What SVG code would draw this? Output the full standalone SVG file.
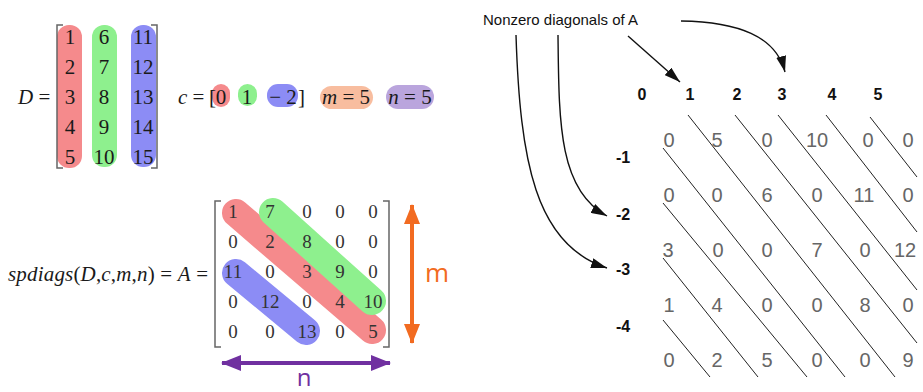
<svg xmlns="http://www.w3.org/2000/svg" width="923" height="392" viewBox="0 0 923 392">
<defs>
<style>
.serif{font-family:"Liberation Serif","Times New Roman",serif;fill:#1a1a1a}
.num{font-family:"Liberation Serif","Times New Roman",serif;font-size:21px;fill:#1a1a1a;text-anchor:middle}
.anum{font-family:"Liberation Serif","Times New Roman",serif;font-size:19px;fill:#333;text-anchor:middle}
.brk{fill:none;stroke:#666;stroke-width:1.5}
.gnum{font-family:"Liberation Sans",Arial,sans-serif;font-size:20px;fill:#666;text-anchor:middle}
.hdr{font-family:"Liberation Sans",Arial,sans-serif;font-size:16px;font-weight:bold;fill:#111;text-anchor:middle}
.diag{stroke:#222;stroke-width:1;fill:none}
.conn{stroke:#111;stroke-width:1.4;fill:none;marker-end:url(#ah)}
.it{font-style:italic}
</style>
<marker id="ah" viewBox="0 0 16 10" refX="16" refY="5" markerWidth="16" markerHeight="10" markerUnits="userSpaceOnUse" orient="auto">
<path d="M0,0 L16,5 L0,10 Z" fill="#111"/>
</marker>
<marker id="oa" viewBox="0 0 20 16" refX="19" refY="8" markerWidth="20" markerHeight="16" markerUnits="userSpaceOnUse" orient="auto-start-reverse">
<path d="M0,0 L20,8 L0,16 Z" fill="#f26b21"/>
</marker>
<marker id="pa" viewBox="0 0 20 16" refX="19" refY="8" markerWidth="20" markerHeight="16" markerUnits="userSpaceOnUse" orient="auto-start-reverse">
<path d="M0,0 L20,8 L0,16 Z" fill="#7030a0"/>
</marker>
</defs>
<rect width="923" height="392" fill="#fff"/>

<g id="D-matrix">
<text class="serif" x="18" y="104" font-size="21"><tspan class="it">D</tspan> =</text>
<rect x="57" y="25" width="25" height="143" rx="12" fill="#f58a8c"/>
<rect x="92" y="25" width="25" height="142" rx="12" fill="#8ef08e"/>
<rect x="131" y="25" width="25" height="142" rx="12" fill="#8c8cf5"/>
<path class="brk" d="M63,25 H57 V168 H63"/>
<path class="brk" d="M151,25 H157 V168 H151"/>
<text class="num" x="70" y="44">1</text><text class="num" x="70" y="74">2</text><text class="num" x="70" y="104">3</text><text class="num" x="70" y="134">4</text><text class="num" x="70" y="164">5</text>
<text class="num" x="104" y="44">6</text><text class="num" x="104" y="74">7</text><text class="num" x="104" y="104">8</text><text class="num" x="104" y="134">9</text><text class="num" x="104" y="164">10</text>
<text class="num" x="143" y="44">11</text><text class="num" x="143" y="74">12</text><text class="num" x="143" y="104">13</text><text class="num" x="143" y="134">14</text><text class="num" x="143" y="164">15</text>
</g>

<g id="c-vector">
<rect x="212" y="84" width="18" height="23" rx="9" fill="#f58a8c"/>
<rect x="238" y="84" width="19" height="22" rx="9.5" fill="#8ef08e"/>
<rect x="267" y="84" width="31" height="23" rx="11" fill="#8c8cf5"/>
<text class="serif" x="178" y="104" font-size="21"><tspan class="it">c</tspan> =</text>
<text class="serif" x="209" y="104" font-size="21">[</text>
<text class="num" x="221" y="104">0</text>
<text class="num" x="247" y="104">1</text>
<text class="num" x="283" y="104">− 2</text>
<text class="serif" x="298" y="104" font-size="21">]</text>
</g>

<g id="m-pill">
<rect x="320" y="86" width="53" height="23" rx="11.5" fill="#f8bd9f"/>
<text class="num" x="346" y="104"><tspan class="it">m</tspan> = 5</text>
</g>
<g id="n-pill">
<rect x="386" y="85" width="48" height="24" rx="12" fill="#baa5dd"/>
<text class="num" x="410" y="104"><tspan class="it">n</tspan> = 5</text>
</g>

<g id="A-equation">
<text class="serif" x="8" y="281" font-size="21" textLength="200" lengthAdjust="spacing"><tspan class="it">spdiags</tspan>(<tspan class="it">D</tspan>,<tspan class="it">c</tspan>,<tspan class="it">m</tspan>,<tspan class="it">n</tspan>) = <tspan class="it">A</tspan> =</text>
</g>

<g id="A-matrix">
<line x1="236" y1="213" x2="372" y2="330" stroke="#f58a8c" stroke-width="28" stroke-linecap="round"/>
<line x1="273" y1="212" x2="372" y2="301" stroke="#8ef08e" stroke-width="28" stroke-linecap="round"/>
<line x1="236" y1="273" x2="306" y2="331" stroke="#8c8cf5" stroke-width="28" stroke-linecap="round"/>
<path class="brk" d="M221,201 H215 V347 H221"/>
<path class="brk" d="M383,201 H389 V347 H383"/>
<text class="anum" x="233" y="218">1</text><text class="anum" x="270" y="218">7</text><text class="anum" x="307" y="218">0</text><text class="anum" x="340" y="218">0</text><text class="anum" x="373" y="218">0</text>
<text class="anum" x="233" y="248">0</text><text class="anum" x="270" y="248">2</text><text class="anum" x="307" y="248">8</text><text class="anum" x="340" y="248">0</text><text class="anum" x="373" y="248">0</text>
<text class="anum" x="233" y="278">11</text><text class="anum" x="270" y="278">0</text><text class="anum" x="307" y="278">3</text><text class="anum" x="340" y="278">9</text><text class="anum" x="373" y="278">0</text>
<text class="anum" x="233" y="308">0</text><text class="anum" x="270" y="308">12</text><text class="anum" x="307" y="308">0</text><text class="anum" x="340" y="308">4</text><text class="anum" x="373" y="308">10</text>
<text class="anum" x="233" y="338">0</text><text class="anum" x="270" y="338">0</text><text class="anum" x="307" y="338">13</text><text class="anum" x="340" y="338">0</text><text class="anum" x="373" y="338">5</text>
</g>

<g id="m-arrow">
<line x1="412" y1="205" x2="412" y2="343" stroke="#f26b21" stroke-width="4" marker-start="url(#oa)" marker-end="url(#oa)"/>
<text x="437" y="282" font-family="'Open Sans','Liberation Sans',sans-serif" font-size="26" fill="#f26b21" text-anchor="middle">m</text>
</g>
<g id="n-arrow">
<line x1="222" y1="363" x2="390" y2="363" stroke="#7030a0" stroke-width="4" marker-start="url(#pa)" marker-end="url(#pa)"/>
<text x="304" y="386" font-family="'Open Sans','Liberation Sans',sans-serif" font-size="24" fill="#7030a0" text-anchor="middle">n</text>
</g>

<g id="title">
<text x="483" y="25" font-family="'Liberation Sans',Arial,sans-serif" font-size="15" fill="#111" textLength="155" lengthAdjust="spacingAndGlyphs">Nonzero diagonals of A</text>
</g>

<g id="headers">
<text class="hdr" x="642" y="100">0</text><text class="hdr" x="690" y="100">1</text><text class="hdr" x="737" y="100">2</text><text class="hdr" x="782" y="100">3</text><text class="hdr" x="832" y="100">4</text><text class="hdr" x="878" y="100">5</text>
</g>
<g id="row-labels">
<text class="hdr" x="623" y="163">-1</text><text class="hdr" x="623" y="220">-2</text><text class="hdr" x="623" y="275">-3</text><text class="hdr" x="623" y="332">-4</text>
</g>

<g id="grid">
<text class="gnum" x="669" y="147">0</text><text class="gnum" x="717" y="147">5</text><text class="gnum" x="767" y="147">0</text><text class="gnum" x="817" y="147">10</text><text class="gnum" x="868" y="147">0</text><text class="gnum" x="908" y="147">0</text>
<text class="gnum" x="669" y="202">0</text><text class="gnum" x="717" y="202">0</text><text class="gnum" x="767" y="202">6</text><text class="gnum" x="817" y="202">0</text><text class="gnum" x="864" y="202">11</text><text class="gnum" x="908" y="202">0</text>
<text class="gnum" x="668" y="257">3</text><text class="gnum" x="718" y="257">0</text><text class="gnum" x="767" y="257">0</text><text class="gnum" x="817" y="257">7</text><text class="gnum" x="865" y="257">0</text><text class="gnum" x="905" y="257">12</text>
<text class="gnum" x="669" y="312">1</text><text class="gnum" x="717" y="312">4</text><text class="gnum" x="767" y="312">0</text><text class="gnum" x="817" y="312">0</text><text class="gnum" x="865" y="312">8</text><text class="gnum" x="908" y="312">0</text>
<text class="gnum" x="669" y="367">0</text><text class="gnum" x="717" y="367">2</text><text class="gnum" x="767" y="367">5</text><text class="gnum" x="817" y="367">0</text><text class="gnum" x="865" y="367">0</text><text class="gnum" x="908" y="367">9</text>
<line class="diag" x1="870" y1="117" x2="917" y2="177"/>
<line class="diag" x1="826" y1="115" x2="917" y2="232"/>
<line class="diag" x1="778" y1="115" x2="917" y2="290"/>
<line class="diag" x1="735" y1="115" x2="917" y2="343"/>
<line class="diag" x1="688" y1="115" x2="895" y2="377"/>
<line class="diag" x1="663" y1="148" x2="845" y2="377"/>
<line class="diag" x1="663" y1="203" x2="807" y2="377"/>
<line class="diag" x1="663" y1="258" x2="758" y2="377"/>
<line class="diag" x1="663" y1="320" x2="710" y2="377"/>
</g>

<g id="connectors">
<path class="conn" d="M628,36 L680,82"/>
<path class="conn" d="M681,21 C738,22 776,36 785,72"/>
<path class="conn" d="M558,35 C559,120 558,190 607,216"/>
<path class="conn" d="M516,35 C520,160 535,245 607,268"/>
</g>
</svg>
